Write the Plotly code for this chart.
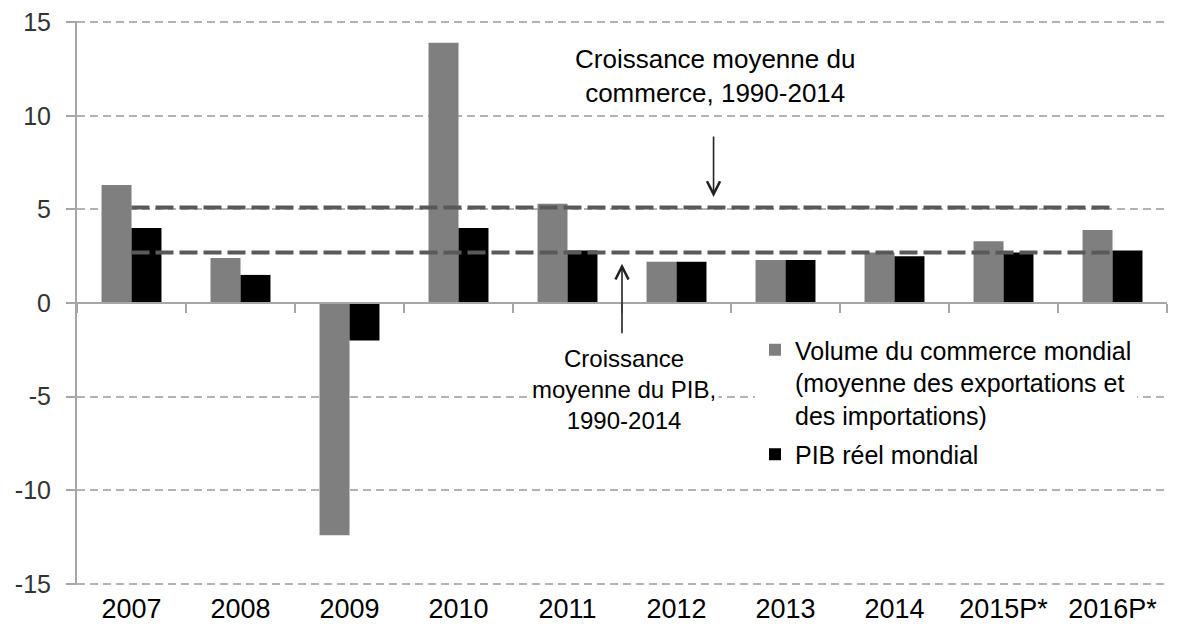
import plotly.graph_objects as go

years = ["2007", "2008", "2009", "2010", "2011", "2012", "2013", "2014", "2015P*", "2016P*"]
commerce = [6.3, 2.4, -12.4, 13.9, 5.3, 2.2, 2.3, 2.7, 3.3, 3.9]
pib = [4.0, 1.5, -2.0, 4.0, 2.8, 2.2, 2.3, 2.5, 2.7, 2.8]
moy_commerce = 5.1
moy_pib = 2.7
y_ticks = [-15, -10, -5, 0, 5, 10, 15]
y_ticktext = ["-15", "-10", "-5", "0", "5", "10", "15"]

FONT = "Liberation Sans, Arial, sans-serif"
GRID = "#b3b3b3"
AXIS = "#a6a6a6"

fig = go.Figure()
fig.add_trace(go.Bar(x=years, y=commerce, name="Volume du commerce mondial<br>(moyenne des exportations et<br>des importations)",
                     marker=dict(color="#7f7f7f", line=dict(width=0)), legendgroup="a"))
fig.add_trace(go.Bar(x=years, y=pib, name="PIB réel mondial",
                     marker=dict(color="#000000", line=dict(width=0)), legendgroup="b"))
fig.add_trace(go.Scatter(x=years, y=[moy_commerce] * len(years), xaxis="x2", mode="lines",
                         line=dict(color="#595959", width=4, dash="18px,6px"), showlegend=False, hoverinfo="skip"))
fig.add_trace(go.Scatter(x=years, y=[moy_pib] * len(years), xaxis="x2", mode="lines",
                         line=dict(color="#595959", width=4, dash="18px,6px"), showlegend=False, hoverinfo="skip"))

# page body has an 8px margin: figure is sized/offset to compensate
fig.update_layout(
    width=1176, height=620,
    margin=dict(l=69, r=17, t=13, b=43, autoexpand=False),
    paper_bgcolor="white", plot_bgcolor="white",
    barmode="group", bargap=0.45, bargroupgap=0,
    font=dict(family=FONT, color="black"),
    xaxis=dict(type="category", categoryorder="array", categoryarray=years, range=[-0.5, 9.5],
               showline=False, showgrid=False, zeroline=False, ticks="", automargin=False,
               ticklabelstandoff=5, tickfont=dict(size=27, color="black")),
    xaxis2=dict(type="category", categoryorder="array", categoryarray=years, range=[-0.5, 9.5],
                overlaying="x", anchor="free", position=0.5, side="bottom", automargin=False,
                showline=True, linecolor=AXIS, linewidth=2, showgrid=False, zeroline=False,
                ticks="outside", tickson="boundaries", ticklen=9, tickwidth=2, tickcolor=AXIS,
                showticklabels=False),
    yaxis=dict(range=[-15.06, 15.06], tickvals=y_ticks, ticktext=y_ticktext, automargin=False,
               showline=True, linecolor=AXIS, linewidth=2,
               showgrid=True, gridcolor=GRID, gridwidth=2, griddash="8px,5px",
               zeroline=False, ticks="outside", ticklen=9, tickwidth=2, tickcolor=AXIS,
               ticklabeloverflow="allow",
               ticklabelstandoff=10, tickfont=dict(size=25, color="#333333")),
    legend=dict(x=(755 - 77) / 1090, y=(585 - 327) / 564, xanchor="left", yanchor="top",
                bgcolor="white", font=dict(size=25, color="black"), valign="top",
                tracegroupgap=4, itemwidth=30),
    showlegend=True,
)

fig.add_annotation(x=5.35, y=12.1, xref="x", yref="y", text="Croissance moyenne du<br>commerce, 1990-2014",
                   showarrow=False, font=dict(size=26, color="black"), xanchor="center", yanchor="middle")
fig.add_annotation(x=5.34, y=5.66, ax=5.34, ay=8.97, xref="x", yref="y", axref="x", ayref="y", text="",
                   showarrow=True, arrowhead=5, arrowsize=1.6, arrowwidth=1.6, arrowcolor="#222222")
fig.add_annotation(x=4.5, y=2.1, ax=4.5, ay=-1.7, xref="x", yref="y", axref="x", ayref="y", text="",
                   showarrow=True, arrowhead=5, arrowsize=1.6, arrowwidth=1.6, arrowcolor="#222222")
fig.add_annotation(x=4.52, y=-4.64, xref="x", yref="y", text="Croissance<br>moyenne du PIB,<br>1990-2014",
                   showarrow=False, font=dict(size=24, color="black"), xanchor="center", yanchor="middle",
                   bgcolor="white", borderpad=2)

fig.write_html("out.html")
